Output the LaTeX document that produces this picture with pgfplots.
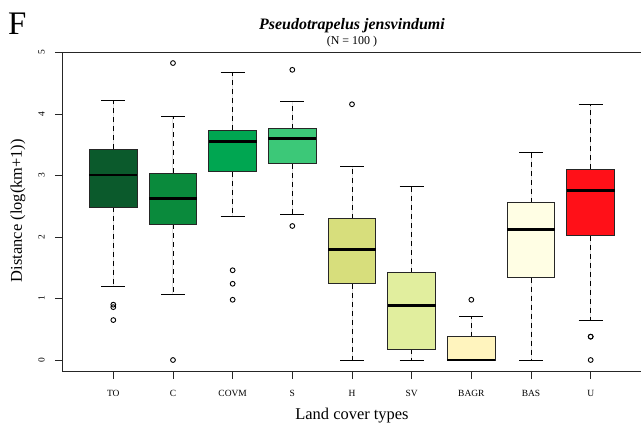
\documentclass[border=0pt]{standalone}
\usepackage{pgfplots}
\pgfplotsset{compat=1.18}
\usepgfplotslibrary{statistics}
\usepackage{fontspec}
\setmainfont{Liberation Serif}

\definecolor{cTO}{HTML}{0B5A2C}
\definecolor{cC}{HTML}{0A8A3C}
\definecolor{cCOVM}{HTML}{00A651}
\definecolor{cS}{HTML}{3CC878}
\definecolor{cH}{HTML}{D7DE7C}
\definecolor{cSV}{HTML}{E1EE9E}
\definecolor{cBAGR}{HTML}{FFF4BE}
\definecolor{cBAS}{HTML}{FFFEE4}
\definecolor{cU}{HTML}{FF1018}

% R-like whiskers: dashed stem only, caps drawn as a separate plot below
\pgfplotsset{
  boxplot/draw/whisker/.code 2 args={
    \draw[black, line width=0.9bp, dash pattern=on 5bp off 4bp] (boxplot cs:#1) -- (boxplot cs:#2);
  },
  bx/.style={
    draw=black!85, line width=0.8bp,
    mark=o, mark size=2.4bp,
    mark options={solid, draw=black, line width=0.9bp},
    boxplot/draw direction=y,
    boxplot/box extend=0.8,
    boxplot/every median/.style={draw=black, line width=2.9bp},
  },
}

\begin{document}
\begin{tikzpicture}
\useasboundingbox (0,0) rectangle (641bp,427bp);
\begin{axis}[
  at={(62bp,55.3bp)}, anchor=south west,
  scale only axis, width=580bp, height=319.7bp,
  xmin=0.14, xmax=9.86, ymin=-0.19, ymax=5.01,
  axis x line*=bottom, axis y line*=left,
  axis line style={line width=0.8bp, black!85},
  xtick={1,...,9},
  xticklabels={TO,C,COVM,S,H,SV,BAGR,BAS,U},
  ytick={0,...,5},
  tick align=outside, major tick length=7bp,
  tick style={line width=0.8bp, black!85},
  ticklabel style={font=\fontsize{9.5}{11}\selectfont},
  xticklabel style={yshift=-8bp},
  yticklabel style={xshift=-6.8bp, rotate=90, anchor=south},
  /pgf/number format/assume math mode=true,
  xlabel={Land cover types},
  ylabel={Distance (log(km+1))},
  label style={font=\fontsize{16.5}{19}\selectfont},
  xlabel style={at={(axis description cs:0.5,-0.151)}, anchor=base},
  ylabel style={at={(axis description cs:-0.069,0.504)}, anchor=base},
]
\draw[line width=0.8bp, black!85] (rel axis cs:0,1) -- (rel axis cs:1,1);

% whisker caps (0.4 wide), one segment per whisker end
\addplot[black, line width=0.9bp, solid, forget plot] table {
x y
0.8 4.22
1.2 4.22

0.8 1.19
1.2 1.19

1.8 3.96
2.2 3.96

1.8 1.06
2.2 1.06

2.8 4.67
3.2 4.67

2.8 2.33
3.2 2.33

3.8 4.21
4.2 4.21

3.8 2.37
4.2 2.37

4.8 3.15
5.2 3.15

4.8 0.0
5.2 0.0

5.8 2.82
6.2 2.82

5.8 0.0
6.2 0.0

6.8 0.71
7.2 0.71

7.8 3.37
8.2 3.37

7.8 0.0
8.2 0.0

8.8 4.15
9.2 4.15

8.8 0.65
9.2 0.65
};

% TO
\addplot[bx, fill=cTO, boxplot prepared={draw position=1,
  lower whisker=1.19, lower quartile=2.49, median=3.01,
  upper quartile=3.43, upper whisker=4.22}]
  table[row sep=\\, y index=0] {y\\ 0.90\\ 0.86\\ 0.65\\};
% C
\addplot[bx, fill=cC, boxplot prepared={draw position=2,
  lower whisker=1.06, lower quartile=2.21, median=2.63,
  upper quartile=3.04, upper whisker=3.96}]
  table[row sep=\\, y index=0] {y\\ 4.83\\ 0.0\\};
% COVM
\addplot[bx, fill=cCOVM, boxplot prepared={draw position=3,
  lower whisker=2.33, lower quartile=3.06, median=3.55,
  upper quartile=3.74, upper whisker=4.67}]
  table[row sep=\\, y index=0] {y\\ 1.46\\ 1.24\\ 0.98\\};
% S
\addplot[bx, fill=cS, boxplot prepared={draw position=4,
  lower whisker=2.37, lower quartile=3.19, median=3.60,
  upper quartile=3.76, upper whisker=4.21}]
  table[row sep=\\, y index=0] {y\\ 4.72\\ 2.18\\};
% H
\addplot[bx, fill=cH, boxplot prepared={draw position=5,
  lower whisker=0.0, lower quartile=1.24, median=1.80,
  upper quartile=2.30, upper whisker=3.15}]
  table[row sep=\\, y index=0] {y\\ 4.16\\};
% SV
\addplot[bx, fill=cSV, boxplot prepared={draw position=6,
  lower whisker=0.0, lower quartile=0.18, median=0.88,
  upper quartile=1.42, upper whisker=2.82}]
  coordinates {};
% BAGR
\addplot[bx, fill=cBAGR, boxplot prepared={draw position=7,
  lower whisker=0.0, lower quartile=0.0, median=0.0,
  upper quartile=0.38, upper whisker=0.71}]
  table[row sep=\\, y index=0] {y\\ 0.98\\};
% BAS
\addplot[bx, fill=cBAS, boxplot prepared={draw position=8,
  lower whisker=0.0, lower quartile=1.34, median=2.12,
  upper quartile=2.56, upper whisker=3.37}]
  coordinates {};
% U
\addplot[bx, fill=cU, boxplot prepared={draw position=9,
  lower whisker=0.65, lower quartile=2.02, median=2.75,
  upper quartile=3.10, upper whisker=4.15}]
  table[row sep=\\, y index=0] {y\\ 0.38\\ 0.38\\ 0.0\\};
\end{axis}

\node[anchor=base west, inner sep=0, font=\fontsize{33}{36}\selectfont] at (8bp,392bp) {F};
\node[anchor=base, inner sep=0, font=\fontsize{16}{18}\selectfont\bfseries\itshape] at (352bp,397bp) {Pseudotrapelus jensvindumi};
\node[anchor=base, inner sep=0, font=\fontsize{12}{14}\selectfont] at (352bp,382bp) {(N = 100 )};
\end{tikzpicture}
\end{document}
